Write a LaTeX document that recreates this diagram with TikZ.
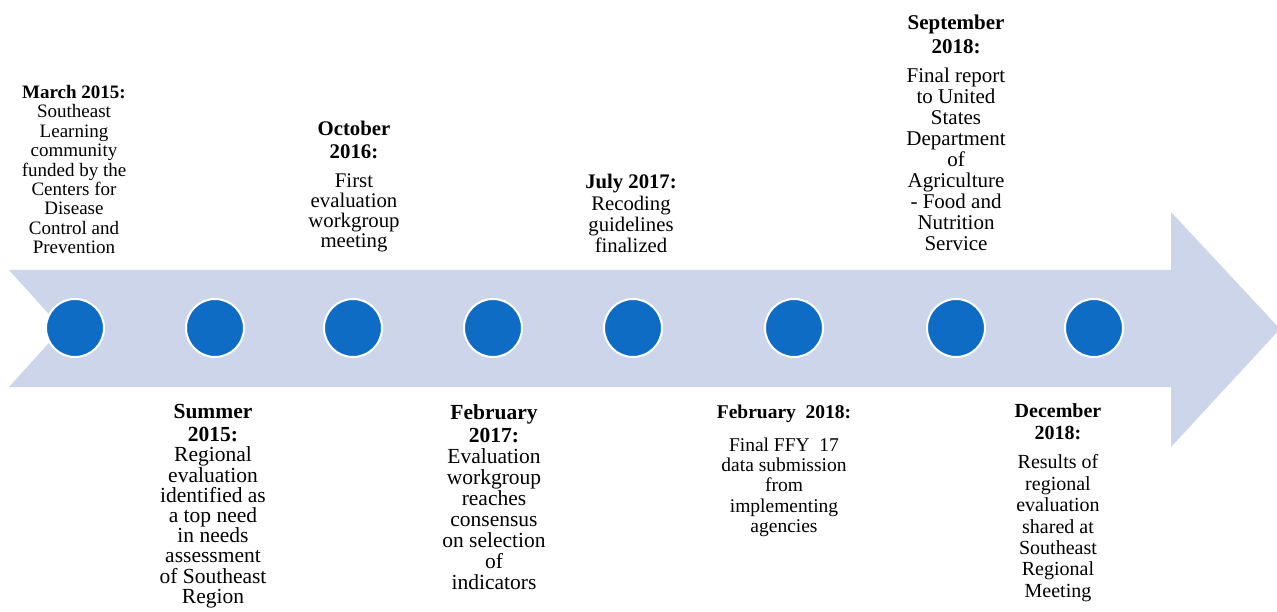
\documentclass[tikz,border=0pt]{standalone}
\usepackage{fontspec}
\setmainfont{Liberation Serif}
\definecolor{arrowfill}{HTML}{CDD5EA}
\definecolor{dotblue}{HTML}{0E6CC4}
\begin{document}
\begin{tikzpicture}[x=1pt,y=-1pt,
  dot/.style={circle,fill=dotblue,draw=white,line width=2pt,minimum size=58pt,inner sep=0pt},
  lbl/.style={align=center,inner sep=0pt},
  fs/.style 2 args={font=\fontsize{#1}{#2}\selectfont},
  toplbl/.style={lbl,anchor=south},
  botlbl/.style={lbl,anchor=north}]
\useasboundingbox (0,0) rectangle (1277,612);
\fill[white] (0,0) rectangle (1277,612);
\fill[arrowfill] (9,270) -- (1171,270) -- (1171,212) -- (1280,329) -- (1171,447) -- (1171,387) -- (9,387) -- (62,328.5) -- cycle;
\foreach \x [count=\i] in {75,215,353,493,633,794,956,1094}
  \node[dot] (c\i) at (\x,328) {};
\node[toplbl,fs={19}{19.4}] (t1) at (74,254) {\textbf{March 2015:}\\Southeast\\Learning\\community\\funded by the\\Centers for\\Disease\\Control and\\Prevention};
\node[toplbl,fs={20.8}{20}] (t2) at (354,252) {\textbf{October}\\[3pt]\textbf{2016:}\\[9pt]First\\evaluation\\workgroup\\meeting};
\node[toplbl,fs={20.7}{20.8}] (t3) at (631,253) {\textbf{July 2017:}\\[2pt]Recoding\\guidelines\\finalized};
\node[toplbl,fs={21}{21}] (t4) at (956,251) {\textbf{September}\\[3pt]\textbf{2018:}\\[8pt]Final report\\to United\\States\\Department\\of\\Agriculture\\- Food and\\Nutrition\\Service};
\node[botlbl,fs={21.5}{20.2}] (b1) at (213,404) {\textbf{Summer}\\[3pt]\textbf{2015:}\\Regional\\evaluation\\identified as\\a top need\\in needs\\assessment\\of Southeast\\Region};
\node[botlbl,fs={21.5}{21}] (b2) at (494,404) {\textbf{February}\\[2pt]\textbf{2017:}\\Evaluation\\workgroup\\reaches\\consensus\\on selection\\of\\indicators};
\node[botlbl,fs={19.5}{20.4}] (b3) at (784,405) {\textbf{February~ 2018:}\\[12pt]Final FFY~ 17\\data submission\\from\\implementing\\agencies};
\node[botlbl,fs={20}{21.4}] (b4) at (1058,403) {\textbf{December}\\[1pt]\textbf{2018:}\\[8pt]Results of\\regional\\evaluation\\shared at\\Southeast\\Regional\\Meeting};
\end{tikzpicture}
\end{document}
